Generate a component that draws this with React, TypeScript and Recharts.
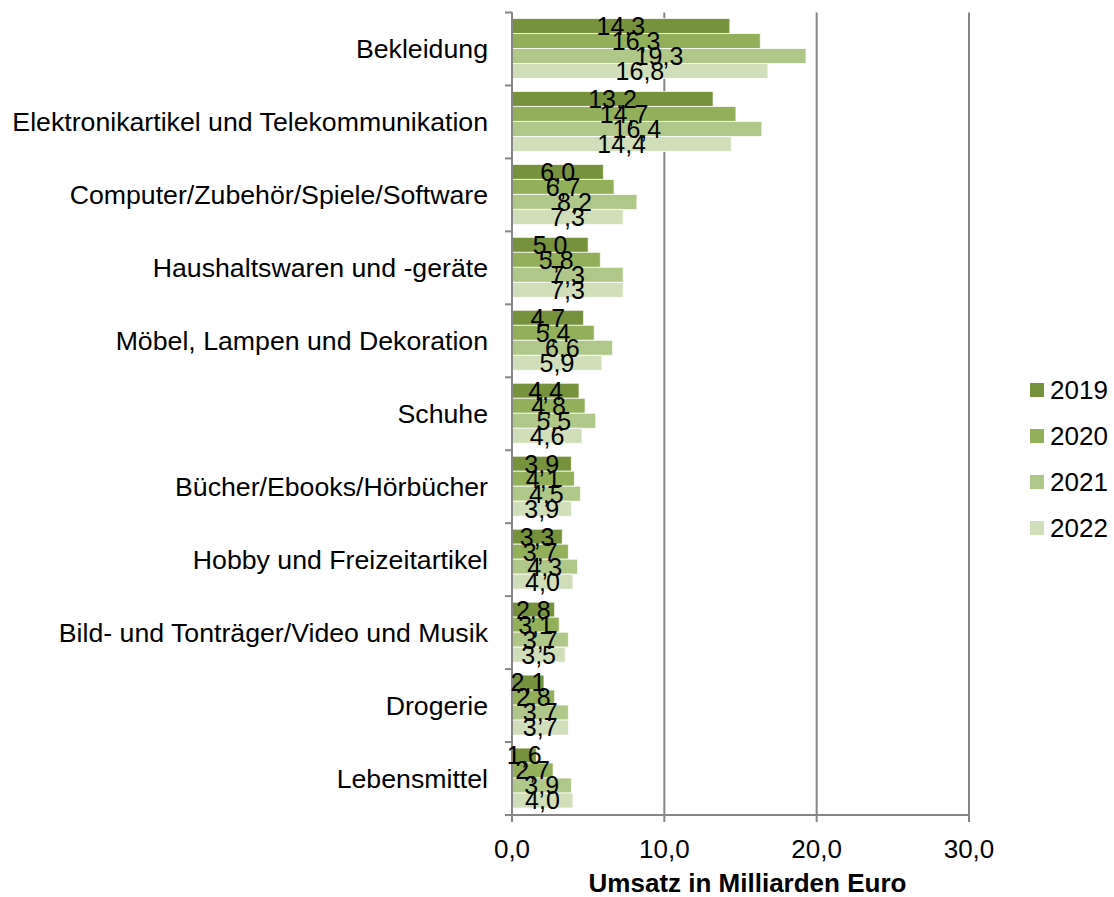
import React from 'react';
import { BarChart, Bar, XAxis, YAxis, CartesianGrid, LabelList, Label } from 'recharts';

const categories = [
  'Bekleidung',
  'Elektronikartikel und Telekommunikation',
  'Computer/Zubehör/Spiele/Software',
  'Haushaltswaren und -geräte',
  'Möbel, Lampen und Dekoration',
  'Schuhe',
  'Bücher/Ebooks/Hörbücher',
  'Hobby und Freizeitartikel',
  'Bild- und Tonträger/Video und Musik',
  'Drogerie',
  'Lebensmittel',
];
const v2019 = [14.3, 13.2, 6.0, 5.0, 4.7, 4.4, 3.9, 3.3, 2.8, 2.1, 1.6];
const v2020 = [16.3, 14.7, 6.7, 5.8, 5.4, 4.8, 4.1, 3.7, 3.1, 2.8, 2.7];
const v2021 = [19.3, 16.4, 8.2, 7.3, 6.6, 5.5, 4.5, 4.3, 3.7, 3.7, 3.9];
const v2022 = [16.8, 14.4, 7.3, 7.3, 5.9, 4.6, 3.9, 4.0, 3.5, 3.7, 4.0];
const years = ['2019', '2020', '2021', '2022'];
const colors = ['#76923C', '#92B05A', '#AFC788', '#D0DEBA'];
const xTicks = [0, 10, 20, 30];
const axisTitle = 'Umsatz in Milliarden Euro';

const data = categories.map((name, i) => ({
  name,
  y2019: v2019[i],
  y2020: v2020[i],
  y2021: v2021[i],
  y2022: v2022[i],
}));
const keys = ['y2019', 'y2020', 'y2021', 'y2022'];

const fmt = (v: any) => Number(v).toFixed(1).replace('.', ',');
const FONT = '"Liberation Sans", Arial, sans-serif';
const AXIS = '#868686';
const TICK_SIZE = 7;
const TICK_MARGIN = 17;

function CategoryTick(props: any) {
  const { x, y, payload, index, visibleTicksCount } = props;
  const axisX = x + TICK_SIZE + TICK_MARGIN;
  const half = payload && payload.offset ? payload.offset : 0;
  return (
    <g>
      <line x1={axisX - TICK_SIZE} x2={axisX} y1={y - half} y2={y - half} stroke={AXIS} strokeWidth={2} />
      {index === visibleTicksCount - 1 && (
        <line x1={axisX - TICK_SIZE} x2={axisX} y1={y + half} y2={y + half} stroke={AXIS} strokeWidth={2} />
      )}
      <text x={x} y={y} dy="0.35em" textAnchor="end" fontSize={26.7} fill="#000" fontFamily={FONT}>
        {payload.value}
      </text>
    </g>
  );
}

export default function App() {
  return (
    <div style={{ position: 'absolute', left: 0, top: 0, width: 1114, height: 897, background: '#fff', fontFamily: FONT }}>
      <BarChart
        width={1114}
        height={897}
        data={data}
        layout="vertical"
        margin={{ top: 12.5, right: 145, bottom: 0, left: 0 }}
        barCategoryGap={6}
        barGap={0}
      >
        <CartesianGrid horizontal={false} stroke={AXIS} strokeWidth={2} />
        <XAxis
          type="number"
          domain={[0, 30]}
          ticks={xTicks}
          tickFormatter={fmt}
          height={82}
          axisLine={{ stroke: AXIS, strokeWidth: 2 }}
          tickLine={{ stroke: AXIS, strokeWidth: 2 }}
          tickSize={7}
          tickMargin={18}
          tick={{ fontSize: 26, fill: '#000', fontFamily: FONT }}
        >
          <Label
            position="insideBottom"
            content={(p: any) => {
              const vb = p.viewBox;
              return (
                <text
                  x={vb.x + vb.width / 2 + 7}
                  y={vb.y + vb.height - 5}
                  textAnchor="middle"
                  fontSize={26}
                  fontWeight="bold"
                  fill="#000"
                  fontFamily={FONT}
                >
                  {axisTitle}
                </text>
              );
            }}
          />
        </XAxis>
        <YAxis
          type="category"
          dataKey="name"
          width={512}
          axisLine={{ stroke: AXIS, strokeWidth: 2 }}
          tickLine={false}
          tickSize={TICK_SIZE}
          tickMargin={TICK_MARGIN}
          tick={<CategoryTick />}
          interval={0}
        />
        {keys.map((k, i) => (
          <Bar key={k} dataKey={k} name={years[i]} fill={colors[i]} stroke="#fff" strokeWidth={0.75} isAnimationActive={false}>
            <LabelList dataKey={k} position="center" formatter={fmt} fill="#000" fontSize={25} fontFamily={FONT} />
          </Bar>
        ))}
      </BarChart>
      <div style={{ position: 'absolute', left: 1030, top: 367 }}>
        {years.map((yr, i) => (
          <div key={yr} style={{ display: 'flex', alignItems: 'center', height: 46 }}>
            <div style={{ width: 14, height: 14, background: colors[i], marginRight: 6 }} />
            <span style={{ fontSize: 26, color: '#000', fontFamily: FONT, lineHeight: '30px' }}>{yr}</span>
          </div>
        ))}
      </div>
    </div>
  );
}
